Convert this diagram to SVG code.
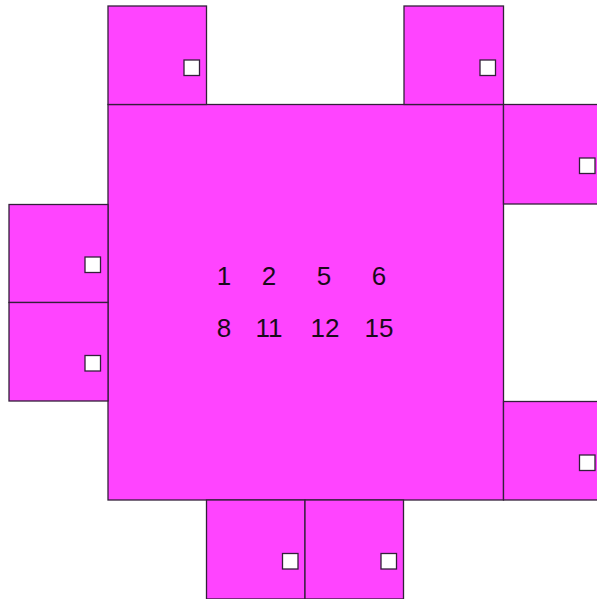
<svg xmlns="http://www.w3.org/2000/svg" width="597" height="599" viewBox="0 0 597 599">
<style>
.b{fill:#ff44ff;stroke:#33203a;stroke-width:1.3}
.s{fill:#ffffff;stroke:#33203a;stroke-width:1.3}
.t{font-family:"Liberation Sans",Arial,sans-serif;font-size:26px;fill:#1a0a1a;text-anchor:middle}
</style>
<rect width="597" height="599" fill="#ffffff"/>
<g id="main">
<rect class="b" x="108" y="104.5" width="395.5" height="395.5"/>
<text class="t" x="224" y="285">1</text>
<text class="t" x="269" y="285">2</text>
<text class="t" x="324" y="285">5</text>
<text class="t" x="379" y="285">6</text>
<text class="t" x="224" y="337">8</text>
<text class="t" x="269" y="337">11</text>
<text class="t" x="325" y="337">12</text>
<text class="t" x="379" y="337">15</text>
</g>
<g id="top-left">
<rect class="b" x="108" y="6" width="98.5" height="98.5"/>
<rect class="s" x="184" y="60" width="15.5" height="15.5"/>
</g>
<g id="top-right">
<rect class="b" x="404" y="6" width="99.5" height="98.5"/>
<rect class="s" x="480" y="60" width="15.5" height="15.5"/>
</g>
<g id="right-top">
<rect class="b" x="503.5" y="104.5" width="100" height="99.5"/>
<rect class="s" x="579.5" y="158" width="15.5" height="15.5"/>
</g>
<g id="right-bottom">
<rect class="b" x="503.5" y="401.5" width="100" height="98.5"/>
<rect class="s" x="579.5" y="455" width="15.5" height="15.5"/>
</g>
<g id="left-top">
<rect class="b" x="9" y="204.5" width="99" height="98"/>
<rect class="s" x="85" y="257" width="15.5" height="15.5"/>
</g>
<g id="left-bottom">
<rect class="b" x="9" y="302.5" width="99" height="98.5"/>
<rect class="s" x="85" y="355.5" width="15.5" height="15.5"/>
</g>
<g id="bottom-left">
<rect class="b" x="206.5" y="500" width="98.5" height="99"/>
<rect class="s" x="282.5" y="553.5" width="15.5" height="15.5"/>
</g>
<g id="bottom-right">
<rect class="b" x="305" y="500" width="98.5" height="99"/>
<rect class="s" x="381" y="553.5" width="15.5" height="15.5"/>
</g>
<g id="connectors"></g>
</svg>
